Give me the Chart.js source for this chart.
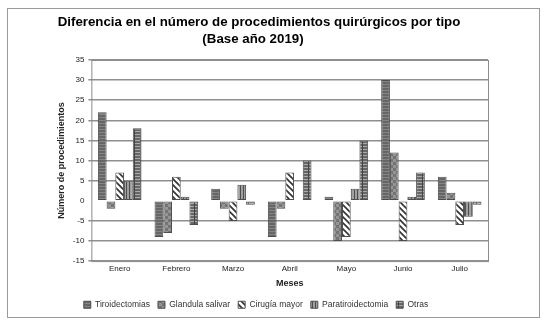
<!DOCTYPE html>
<html>
<head>
<meta charset="utf-8">
<script src="https://cdn.jsdelivr.net/npm/chart.js@4.4.1/dist/chart.umd.min.js"></script>
<style>
  html, body { margin: 0; padding: 0; background: #fff; }
  #wrap { width: 547px; height: 323px; }
</style>
</head>
<body>
<div id="wrap"><canvas id="chartProcedimientos" width="547" height="323"></canvas></div>
<script>
// datos
const meses = ["Enero", "Febrero", "Marzo", "Abril", "Mayo", "Junio", "Julio"];
const tiroidectomias = [22, -9, 3, -9, 1, 30, 6];
const glandulaSalivar = [-2, -8, -2, -2, -10, 12, 2];
const cirugiaMayor = [7, 6, -5, 7, -9, -10, -6];
const paratiroidectomia = [5, 1, 4, 0, 3, 1, -4];
const otras = [18, -6, -1, 10, 15, 7, -1];
const tituloLineas = ["Diferencia en el número de procedimientos quirúrgicos por tipo", "(Base año 2019)"];

function crearPatron(tipo) {
    const c = document.createElement("canvas");
    c.width = 6;
    c.height = 6;
    const g = c.getContext("2d");
    if (tipo === "tiro") {
        g.fillStyle = "#666";
        g.fillRect(0, 0, 6, 6);
        g.fillStyle = "#858585";
        g.fillRect(0, 0, 6, 1);
        g.fillRect(0, 3, 6, 1);
    } else if (tipo === "glandula") {
        g.fillStyle = "#747474";
        g.fillRect(0, 0, 6, 6);
        g.fillStyle = "#949494";
        g.fillRect(0, 0, 3, 3);
        g.fillRect(3, 3, 3, 3);
    } else if (tipo === "cirugia") {
        g.fillStyle = "#ffffff";
        g.fillRect(0, 0, 6, 6);
        g.strokeStyle = "#333";
        g.lineWidth = 1.6;
        g.beginPath();
        g.moveTo(-1, -1); g.lineTo(7, 7);
        g.moveTo(-4, 2); g.lineTo(4, 10);
        g.moveTo(2, -4); g.lineTo(10, 4);
        g.stroke();
    } else if (tipo === "para") {
        g.fillStyle = "#a0a0a0";
        g.fillRect(0, 0, 6, 6);
        g.fillStyle = "#4d4d4d";
        g.fillRect(0, 0, 1, 6);
        g.fillRect(3, 0, 1, 6);
    } else {
        g.fillStyle = "#666";
        g.fillRect(0, 0, 6, 6);
        g.fillStyle = "#aaa";
        g.fillRect(0, 2, 6, 1);
        g.fillRect(0, 5, 6, 1);
        g.fillStyle = "#444";
        g.fillRect(2, 0, 1, 6);
    }
    return g.createPattern(c, "repeat");
}

const marcoPlugin = {
    id: "marco",
    afterLayout(chart) {
        // la leyenda del original queda algo a la izquierda del centro
        if (chart.legend) {
            chart.legend.left -= 16;
            chart.legend.right -= 16;
        }
    },
    afterDraw(chart) {
        const ctx = chart.ctx;
        ctx.save();
        ctx.strokeStyle = "#9a9a9a";
        ctx.lineWidth = 1;
        ctx.strokeRect(7.5, 8.5, 532, 309);
        ctx.fillStyle = "#000";
        ctx.font = "bold 13.3px 'Liberation Sans', Arial, sans-serif";
        ctx.textAlign = "center";
        ctx.textBaseline = "middle";
        ctx.fillText(tituloLineas[0], 259, 22);
        ctx.fillText(tituloLineas[1], 253, 39);
        // marco del area de trazado
        const a = chart.chartArea;
        ctx.strokeStyle = "#8c8c8c";
        ctx.strokeRect(a.left + 0.5, a.top + 0.5, a.right - a.left, a.bottom - a.top);
        ctx.restore();
    }
};

function dataset(label, data, tipo) {
    return {
        label: label,
        data: data,
        backgroundColor: crearPatron(tipo),
        borderColor: "#4d4d4d",
        borderWidth: 1,
        borderSkipped: false
    };
}

document.addEventListener("DOMContentLoaded", () => {
    Chart.defaults.font.family = "'Liberation Sans', Arial, sans-serif";
    Chart.defaults.color = "#333";

    new Chart(document.getElementById("chartProcedimientos"), {
        type: "bar",
        data: {
            labels: meses,
            datasets: [
                dataset("Tiroidectomias", tiroidectomias, "tiro"),
                dataset("Glandula salivar", glandulaSalivar, "glandula"),
                dataset("Cirugía mayor", cirugiaMayor, "cirugia"),
                dataset("Paratiroidectomia", paratiroidectomia, "para"),
                dataset("Otras", otras, "otras")
            ]
        },
        options: {
            responsive: false,
            animation: false,
            devicePixelRatio: 1,
            layout: { padding: { left: 56, right: 59, top: 60, bottom: 4 } },
            datasets: { bar: { categoryPercentage: 0.77, barPercentage: 1 } },
            plugins: {
                title: { display: false },
                tooltip: { enabled: false },
                legend: {
                    position: "bottom",
                    labels: {
                        boxWidth: 7,
                        boxHeight: 7,
                        padding: 8,
                        font: { size: 8.5 },
                        color: "#333"
                    }
                }
            },
            scales: {
                x: {
                    grid: { display: false },
                    border: { display: false },
                    ticks: { font: { size: 8 }, color: "#222", padding: -5 },
                    title: {
                        display: true,
                        text: "Meses",
                        font: { size: 9, weight: "bold" },
                        color: "#222",
                        padding: { top: 9, bottom: 4 }
                    }
                },
                y: {
                    min: -15,
                    max: 35,
                    ticks: { stepSize: 5, font: { size: 8 }, color: "#222", padding: 4 },
                    grid: {
                        color: c => c.tick && c.tick.value === 0 ? "rgba(0,0,0,0)" : "#8f8f8f",
                        lineWidth: 1.5,
                        drawTicks: true,
                        tickLength: 3
                    },
                    border: { display: false },
                    title: {
                        display: true,
                        text: "Número de procedimientos",
                        font: { size: 9, weight: "bold" },
                        color: "#222",
                        padding: { top: 0, bottom: 2 }
                    }
                }
            }
        },
        plugins: [marcoPlugin]
    });
});
</script>
</body>
</html>
